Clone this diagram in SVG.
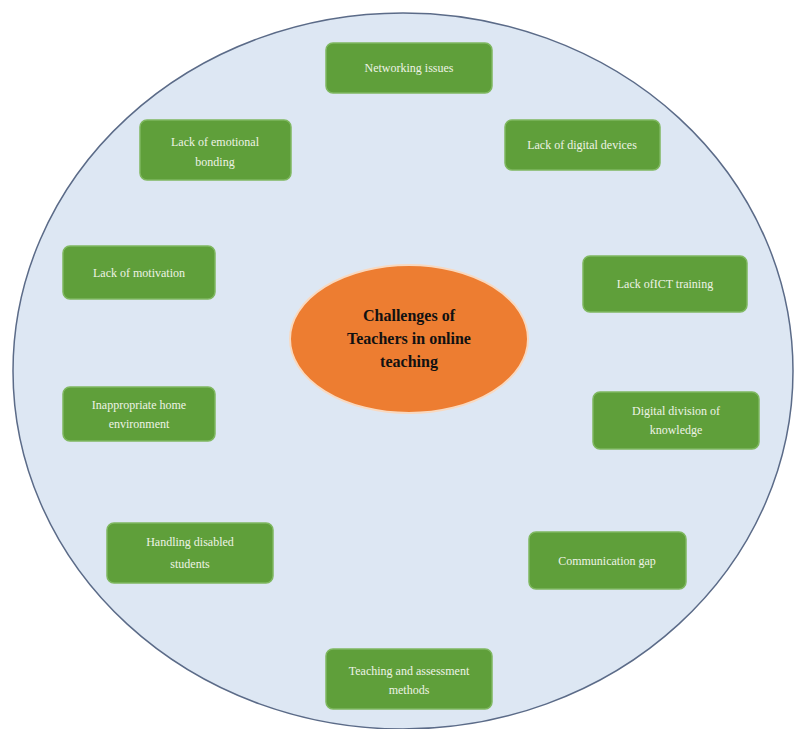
<svg xmlns="http://www.w3.org/2000/svg" width="795" height="729" viewBox="0 0 795 729">
<style>
.box{fill:#5f9f3a;stroke:#7fb860;stroke-width:1.5}
.lbl{font-family:"Liberation Serif","Times New Roman",serif;font-size:12px;fill:#eef3e6;text-anchor:middle}
.ctr{font-family:"Liberation Serif","Times New Roman",serif;font-size:16px;font-weight:bold;fill:#111;text-anchor:middle}
</style>
<rect width="795" height="729" fill="#ffffff"/>
<g id="outer">
<ellipse cx="403" cy="371" rx="390" ry="358" fill="#dde7f3" stroke="#5b6b88" stroke-width="1.5"/>
</g>
<g id="connectors"></g>
<g id="center">
<ellipse cx="409" cy="339" rx="119" ry="74" fill="#ed7d31" stroke="#f8d9c0" stroke-width="2"/>
<text class="ctr" x="409" y="321">Challenges of</text>
<text class="ctr" x="409" y="344">Teachers in online</text>
<text class="ctr" x="409" y="367">teaching</text>
</g>
<g id="networking">
<rect class="box" x="326" y="43" width="166" height="50" rx="7"/>
<text class="lbl" x="409" y="72">Networking issues</text>
</g>
<g id="emotional">
<rect class="box" x="140" y="120" width="151" height="60" rx="7"/>
<text class="lbl" x="215" y="146">Lack of emotional</text>
<text class="lbl" x="215" y="166">bonding</text>
</g>
<g id="devices">
<rect class="box" x="505" y="120" width="155" height="50" rx="7"/>
<text class="lbl" x="582" y="149">Lack of digital devices</text>
</g>
<g id="motivation">
<rect class="box" x="63" y="246" width="152" height="53" rx="7"/>
<text class="lbl" x="139" y="277">Lack of motivation</text>
</g>
<g id="ict">
<rect class="box" x="583" y="256" width="164" height="56" rx="7"/>
<text class="lbl" x="665" y="288">Lack ofICT training</text>
</g>
<g id="home">
<rect class="box" x="63" y="387" width="152" height="54" rx="7"/>
<text class="lbl" x="139" y="409">Inappropriate home</text>
<text class="lbl" x="139" y="428">environment</text>
</g>
<g id="division">
<rect class="box" x="593" y="392" width="166" height="57" rx="7"/>
<text class="lbl" x="676" y="415">Digital division of</text>
<text class="lbl" x="676" y="434">knowledge</text>
</g>
<g id="disabled">
<rect class="box" x="107" y="523" width="166" height="60" rx="7"/>
<text class="lbl" x="190" y="546">Handling disabled</text>
<text class="lbl" x="190" y="568">students</text>
</g>
<g id="communication">
<rect class="box" x="529" y="532" width="157" height="57" rx="7"/>
<text class="lbl" x="607" y="565">Communication gap</text>
</g>
<g id="methods">
<rect class="box" x="326" y="649" width="166" height="60" rx="7"/>
<text class="lbl" x="409" y="675">Teaching and assessment</text>
<text class="lbl" x="409" y="694">methods</text>
</g>
</svg>
